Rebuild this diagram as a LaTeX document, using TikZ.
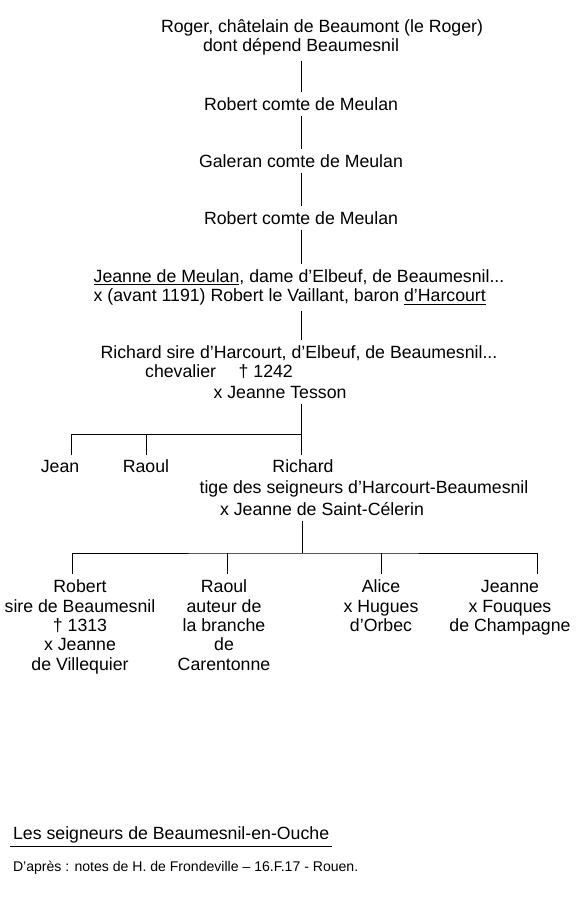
\documentclass[tikz,border=0pt]{standalone}
\usepackage{fontspec}
\setmainfont{Liberation Sans}
\usetikzlibrary{positioning}

\begin{document}
\begin{tikzpicture}[
  font=\fontsize{12.6}{13.8}\selectfont,
  person/.style={inner sep=3.5pt, align=center},
  heir/.style={person, anchor=north},
  kin/.style={line width=0.7pt, draw=black}
]
\useasboundingbox (0,0) rectangle (14.425,22.5);

% main line of descent
\node[person] (roger) at (8.05,21.8) {Roger, châtelain de Beaumont (le Roger)};
\node[person] (roger2) at (7.525,21.325) {dont dépend Beaumesnil};
\node[person] (robert) at (7.525,19.9) {Robert comte de Meulan};
\node[person] (galeran) at (7.525,18.475) {Galeran comte de Meulan};
\node[person] (robertb) at (7.525,17.05) {Robert comte de Meulan};
\node[person, align=left] (jeanne) at (7.475,15.3125) {\underline{Jeanne de Meulan}, dame d'Elbeuf, de Beaumesnil...\\x (avant 1191) Robert le Vaillant, baron \underline{d'Harcourt}};
\node[person] (richard) at (7.475,13.675) {Richard sire d'Harcourt, d'Elbeuf, de Beaumesnil...};
\node[person] (chevalier) at (5.475,13.2) {chevalier \quad † 1242};
\node[person] (tesson) at (7.0,12.675) {x Jeanne Tesson};

\draw[kin] (roger2) -- (robert);
\draw[kin] (robert) -- (galeran);
\draw[kin] (galeran) -- (robertb);
\draw[kin] (robertb) -- (robertb |- jeanne.north);
\draw[kin] (jeanne.south -| robertb) -- (richard.north -| robertb);

% children of Richard
\node[person, anchor=base] (jean) at (1.5,10.68) {Jean};
\node[person, anchor=base] (raoul) at (3.65,10.68) {Raoul};
\node[person, anchor=base] (richardb) at (7.575,10.68) {Richard};
\node[person] (tige) at (9.1,10.275) {tige des seigneurs d'Harcourt-Beaumesnil};
\node[person] (celerin) at (8.05,9.775) {x Jeanne de Saint-Célerin};

\coordinate (fork1) at (7.525,11.625);
\draw[kin] (tesson.south -| fork1) -- (richardb.north -| fork1);
\draw[kin] ([xshift=0.28cm]jean.north) |- (fork1);
\draw[kin] (raoul.north) -- (raoul.north |- fork1);

% grandchildren
\node[heir] (robertc) at (2.0,8.15) {\strut Robert\\sire de Beaumesnil\\† 1313\\x Jeanne\\de Villequier};
\node[heir] (raoulc) at (5.6,8.15) {\strut Raoul\\auteur de\\la branche\\de\\Carentonne};
\node[heir] (alice) at (9.525,8.15) {\strut Alice\\x Hugues\\d'Orbec};
\node[heir] (jeannec) at (12.75,8.15) {\strut Jeanne\\x Fouques\\de Champagne};

\coordinate (fork2) at (7.55,8.675);
\draw[kin] (celerin.south -| fork2) -- (fork2);
\draw[kin] ([xshift=-0.2cm]robertc.north) |- (fork2) -| ([xshift=0.68cm]jeannec.north);
\draw[kin] ([xshift=0.08cm]raoulc.north) -- ([xshift=0.08cm]raoulc.north |- fork2);
\draw[kin] (alice.north) -- (alice.north |- fork2);

% caption
\node[person, anchor=west, inner sep=2pt] (title) at (0.25,1.625) {Les seigneurs de Beaumesnil-en-Ouche};
\draw[kin] (title.south west) -- (title.south east);
\node[person, anchor=west, inner sep=2pt, font=\fontsize{10}{12}\selectfont] (source) at (0.25,0.8) {D'après : notes de H. de Frondeville – 16.F.17 - Rouen.};
\end{tikzpicture}
\end{document}
